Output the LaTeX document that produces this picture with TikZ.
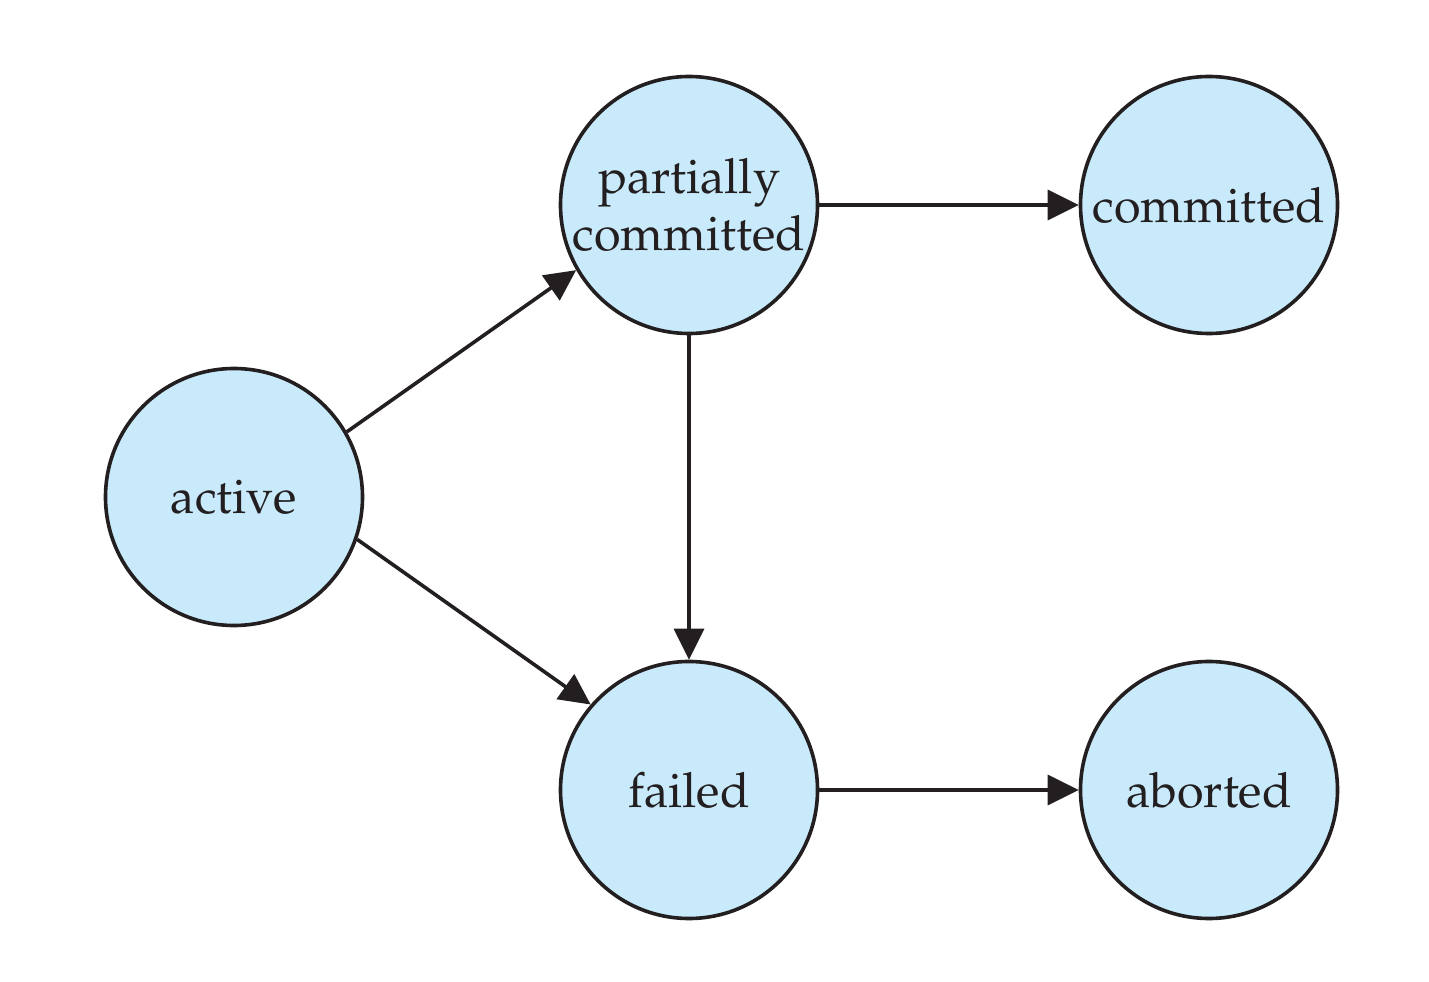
\documentclass[tikz,border=0pt]{standalone}
\usepackage[T1]{fontenc}
\usepackage{mathpazo}
\usetikzlibrary{arrows.meta}
\definecolor{stfill}{RGB}{200,234,250}
\definecolor{stline}{RGB}{35,31,32}
\begin{document}
\begin{tikzpicture}[x=1cm,y=1cm,
  state/.style={circle,draw=stline,fill=stfill,line width=0.036cm,minimum size=2.57cm,inner sep=0pt,align=center,
    font=\fontsize{13.8}{16.0}\selectfont,text=stline},
  edge/.style={draw=stline,line width=0.036cm,-{Triangle[length=0.31cm,width=0.30cm]}}]
\useasboundingbox (0,0) rectangle (14.29,9.81);
\node[state] (act) at (2.34,4.84) {active};
\node[state] (pc) at (6.89,7.76) {partially\\committed};
\node[state] (com) at (12.09,7.76) {committed};
\node[state] (fail) at (6.89,1.91) {failed};
\node[state] (ab) at (12.09,1.91) {aborted};
\draw[edge] (act.30) -- (pc.210);
\draw[edge] (act.-19) -- (fail.139);
\draw[edge] (pc) -- (com);
\draw[edge] (pc) -- (fail);
\draw[edge] (fail) -- (ab);
\end{tikzpicture}
\end{document}
